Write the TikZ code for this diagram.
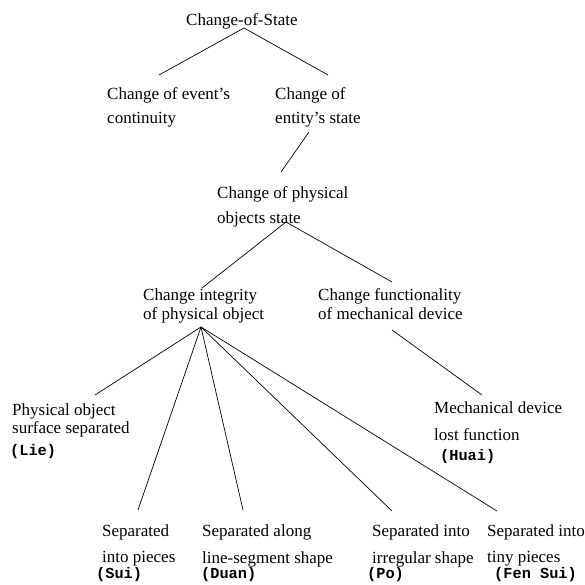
\documentclass[tikz,border=0pt]{standalone}
\usepackage{fontspec}
\setmainfont{Liberation Serif}
\newfontfamily\codefont{Liberation Mono}
\begin{document}
\begin{tikzpicture}[x=1pt,y=-1pt,
  lbl/.style={anchor=base west,inner sep=0pt,font=\fontsize{17}{24}\selectfont},
  edge/.style={draw=black,line width=0.7pt},
  code/.style={}]
\newcommand{\cd}[1]{{\codefont\bfseries\fontsize{15.3}{15}\selectfont #1}}
\useasboundingbox (0,0) rectangle (585,585);
\fill[white] (0,0) rectangle (585,585);
% nodes
\node[lbl] (cos) at (186,26) {Change-of-State};
\node[lbl] (coe) at (107,100) {\fontsize{17}{24}\selectfont\begin{tabular}[t]{@{}l@{}}Change of event's\\continuity\end{tabular}};
\node[lbl] (ces) at (275,100) {\fontsize{17}{24}\selectfont\begin{tabular}[t]{@{}l@{}}Change of\\entity's state\end{tabular}};
\node[lbl] (cps) at (217,198) {\fontsize{17}{25}\selectfont\begin{tabular}[t]{@{}l@{}}Change of physical\\objects state\end{tabular}};
\node[lbl] (cip) at (143,300) {\fontsize{17}{19}\selectfont\begin{tabular}[t]{@{}l@{}}Change integrity\\of physical object\end{tabular}};
\node[lbl] (cfm) at (318,300) {\fontsize{17}{19}\selectfont\begin{tabular}[t]{@{}l@{}}Change functionality\\of mechanical device\end{tabular}};
\node[lbl] (lie) at (12,415) {\fontsize{17}{18}\selectfont\begin{tabular}[t]{@{}l@{}}Physical object\\surface separated\\[4pt]\hspace{-2pt}\cd{(Lie)}\end{tabular}};
\node[lbl] (huai) at (434,413) {\fontsize{17}{20}\selectfont\begin{tabular}[t]{@{}l@{}}Mechanical device\\[7pt]lost function\\\hspace{6pt}\cd{(Huai)}\end{tabular}};
\node[lbl] (sui) at (102,536) {\fontsize{17}{15}\selectfont\begin{tabular}[t]{@{}l@{}}Separated\\[11pt]into pieces\\\hspace{-6pt}\cd{(Sui)}\end{tabular}};
\node[lbl] (duan) at (202,536) {\fontsize{17}{15}\selectfont\begin{tabular}[t]{@{}l@{}}Separated along\\[11pt]line-segment shape\\\hspace{-1pt}\cd{(Duan)}\end{tabular}};
\node[lbl] (po) at (372,536) {\fontsize{17}{15}\selectfont\begin{tabular}[t]{@{}l@{}}Separated into\\[11pt]irregular shape\\\hspace{-5pt}\cd{(Po)}\end{tabular}};
\node[lbl] (fen) at (487,536) {\fontsize{17}{15}\selectfont\begin{tabular}[t]{@{}l@{}}Separated into\\[11pt]tiny pieces\\\hspace{7pt}\cd{(Fen Sui)}\end{tabular}};
% connector end points
\coordinate (cos-s) at (244,28);
\coordinate (coe-n) at (159,75);
\coordinate (ces-n) at (328,75);
\coordinate (ces-s) at (309,132);
\coordinate (cps-n) at (281,172);
\coordinate (cps-s) at (286,222);
\coordinate (cip-n) at (202,288);
\coordinate (cfm-n) at (392,282);
\coordinate (cip-s) at (201,327);
\coordinate (lie-n) at (95,395);
\coordinate (sui-n) at (138,510);
\coordinate (duan-n) at (243,510);
\coordinate (po-n) at (392,511);
\coordinate (fen-n) at (497,511);
\coordinate (cfm-s) at (392,330);
\coordinate (huai-n) at (482,395);
% connectors
\draw[edge] (cos-s) -- (coe-n);
\draw[edge] (cos-s) -- (ces-n);
\draw[edge] (ces-s) -- (cps-n);
\draw[edge] (cps-s) -- (cip-n);
\draw[edge] (cps-s) -- (cfm-n);
\draw[edge] (cip-s) -- (lie-n);
\draw[edge] (cip-s) -- (sui-n);
\draw[edge] (cip-s) -- (duan-n);
\draw[edge] (cip-s) -- (po-n);
\draw[edge] (cip-s) -- (fen-n);
\draw[edge] (cfm-s) -- (huai-n);
\end{tikzpicture}
\end{document}
